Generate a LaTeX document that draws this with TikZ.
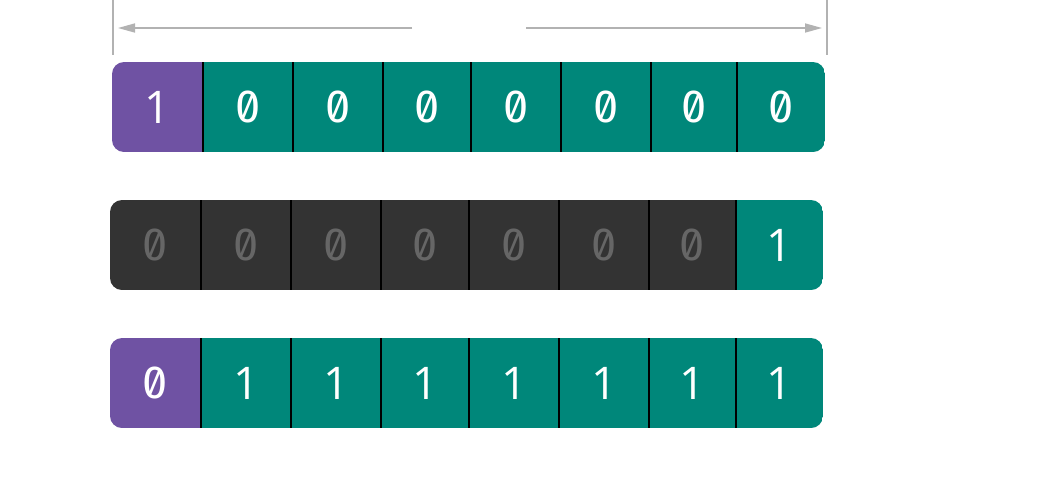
\documentclass[tikz,border=0pt]{standalone}
\usepackage{fontspec}
\usetikzlibrary{arrows.meta}
\newfontfamily\zerofont[RawFeature=+zero, Numbers=Monospaced]{Fira Sans}
\newfontfamily\onefont{Open Sans}
\definecolor{bitpurple}{RGB}{111,82,163}
\definecolor{bitteal}{RGB}{0,135,122}
\definecolor{bitdark}{RGB}{51,51,51}
\definecolor{bitgrey}{RGB}{102,102,102}
\definecolor{dimgrey}{RGB}{178,178,178}
\newcommand{\Z}{{\zerofont 0}}
\newcommand{\One}{{\onefont 1}}
% #1 name, #2 left, #3 right, #4 top, #5 fill, #6 text colour, #7 content
\newcommand{\bitcell}[7]{%
  \node[cellbox, fill=#5, text=#6, minimum width={#3pt-#2pt}] (#1) at ({(#2+#3)/2},{#4+45}) {#7};}
\begin{document}
\begin{tikzpicture}[x=1pt,y=-1pt,
  cellbox/.style={rectangle, draw=none, inner sep=0pt, outer sep=0pt, minimum height=90pt, font=\fontsize{45}{45}\selectfont},
  divider/.style={draw=black, line width=2pt},
  dimline/.style={draw=dimgrey, line width=1.5pt},
  dimarrow/.style={dimline, -{Triangle[length=17pt,width=9pt]}}]
\useasboundingbox (0,0) rectangle (1060,480);
\fill[white] (0,0) rectangle (1060,480);

% dimension marks
\coordinate (vl1) at (113,0);
\coordinate (vl2) at (113,55);
\coordinate (vr1) at (827,0);
\coordinate (vr2) at (827,55);
\coordinate (la) at (412,28);
\coordinate (lt) at (118,28);
\coordinate (ra) at (526,28);
\coordinate (rt) at (822,28);
\draw[dimline] (vl1) -- (vl2);
\draw[dimline] (vr1) -- (vr2);
\draw[dimarrow] (la) -- (lt);
\draw[dimarrow] (ra) -- (rt);

% row 1
\begin{scope}
\clip[rounded corners=12pt] (112,62) rectangle (825,152);
\bitcell{a1}{112}{203}{62}{bitpurple}{white}{\One}
\bitcell{a2}{203}{293}{62}{bitteal}{white}{\Z}
\bitcell{a3}{293}{383}{62}{bitteal}{white}{\Z}
\bitcell{a4}{383}{471}{62}{bitteal}{white}{\Z}
\bitcell{a5}{471}{561}{62}{bitteal}{white}{\Z}
\bitcell{a6}{561}{651}{62}{bitteal}{white}{\Z}
\bitcell{a7}{651}{737}{62}{bitteal}{white}{\Z}
\bitcell{a8}{737}{825}{62}{bitteal}{white}{\Z}
\foreach \c in {a1,a2,a3,a4,a5,a6,a7}{\draw[divider] (\c.north east) -- (\c.south east);}
\end{scope}

% row 2
\begin{scope}
\clip[rounded corners=12pt] (110,200) rectangle (823,290);
\bitcell{b1}{110}{201}{200}{bitdark}{bitgrey}{\Z}
\bitcell{b2}{201}{291}{200}{bitdark}{bitgrey}{\Z}
\bitcell{b3}{291}{381}{200}{bitdark}{bitgrey}{\Z}
\bitcell{b4}{381}{469}{200}{bitdark}{bitgrey}{\Z}
\bitcell{b5}{469}{559}{200}{bitdark}{bitgrey}{\Z}
\bitcell{b6}{559}{649}{200}{bitdark}{bitgrey}{\Z}
\bitcell{b7}{649}{736}{200}{bitdark}{bitgrey}{\Z}
\bitcell{b8}{736}{823}{200}{bitteal}{white}{\One}
\foreach \c in {b1,b2,b3,b4,b5,b6,b7}{\draw[divider] (\c.north east) -- (\c.south east);}
\end{scope}

% row 3
\begin{scope}
\clip[rounded corners=12pt] (110,338) rectangle (823,428);
\bitcell{c1}{110}{201}{338}{bitpurple}{white}{\Z}
\bitcell{c2}{201}{291}{338}{bitteal}{white}{\One}
\bitcell{c3}{291}{381}{338}{bitteal}{white}{\One}
\bitcell{c4}{381}{469}{338}{bitteal}{white}{\One}
\bitcell{c5}{469}{559}{338}{bitteal}{white}{\One}
\bitcell{c6}{559}{649}{338}{bitteal}{white}{\One}
\bitcell{c7}{649}{736}{338}{bitteal}{white}{\One}
\bitcell{c8}{736}{823}{338}{bitteal}{white}{\One}
\foreach \c in {c1,c2,c3,c4,c5,c6,c7}{\draw[divider] (\c.north east) -- (\c.south east);}
\end{scope}
\end{tikzpicture}
\end{document}
